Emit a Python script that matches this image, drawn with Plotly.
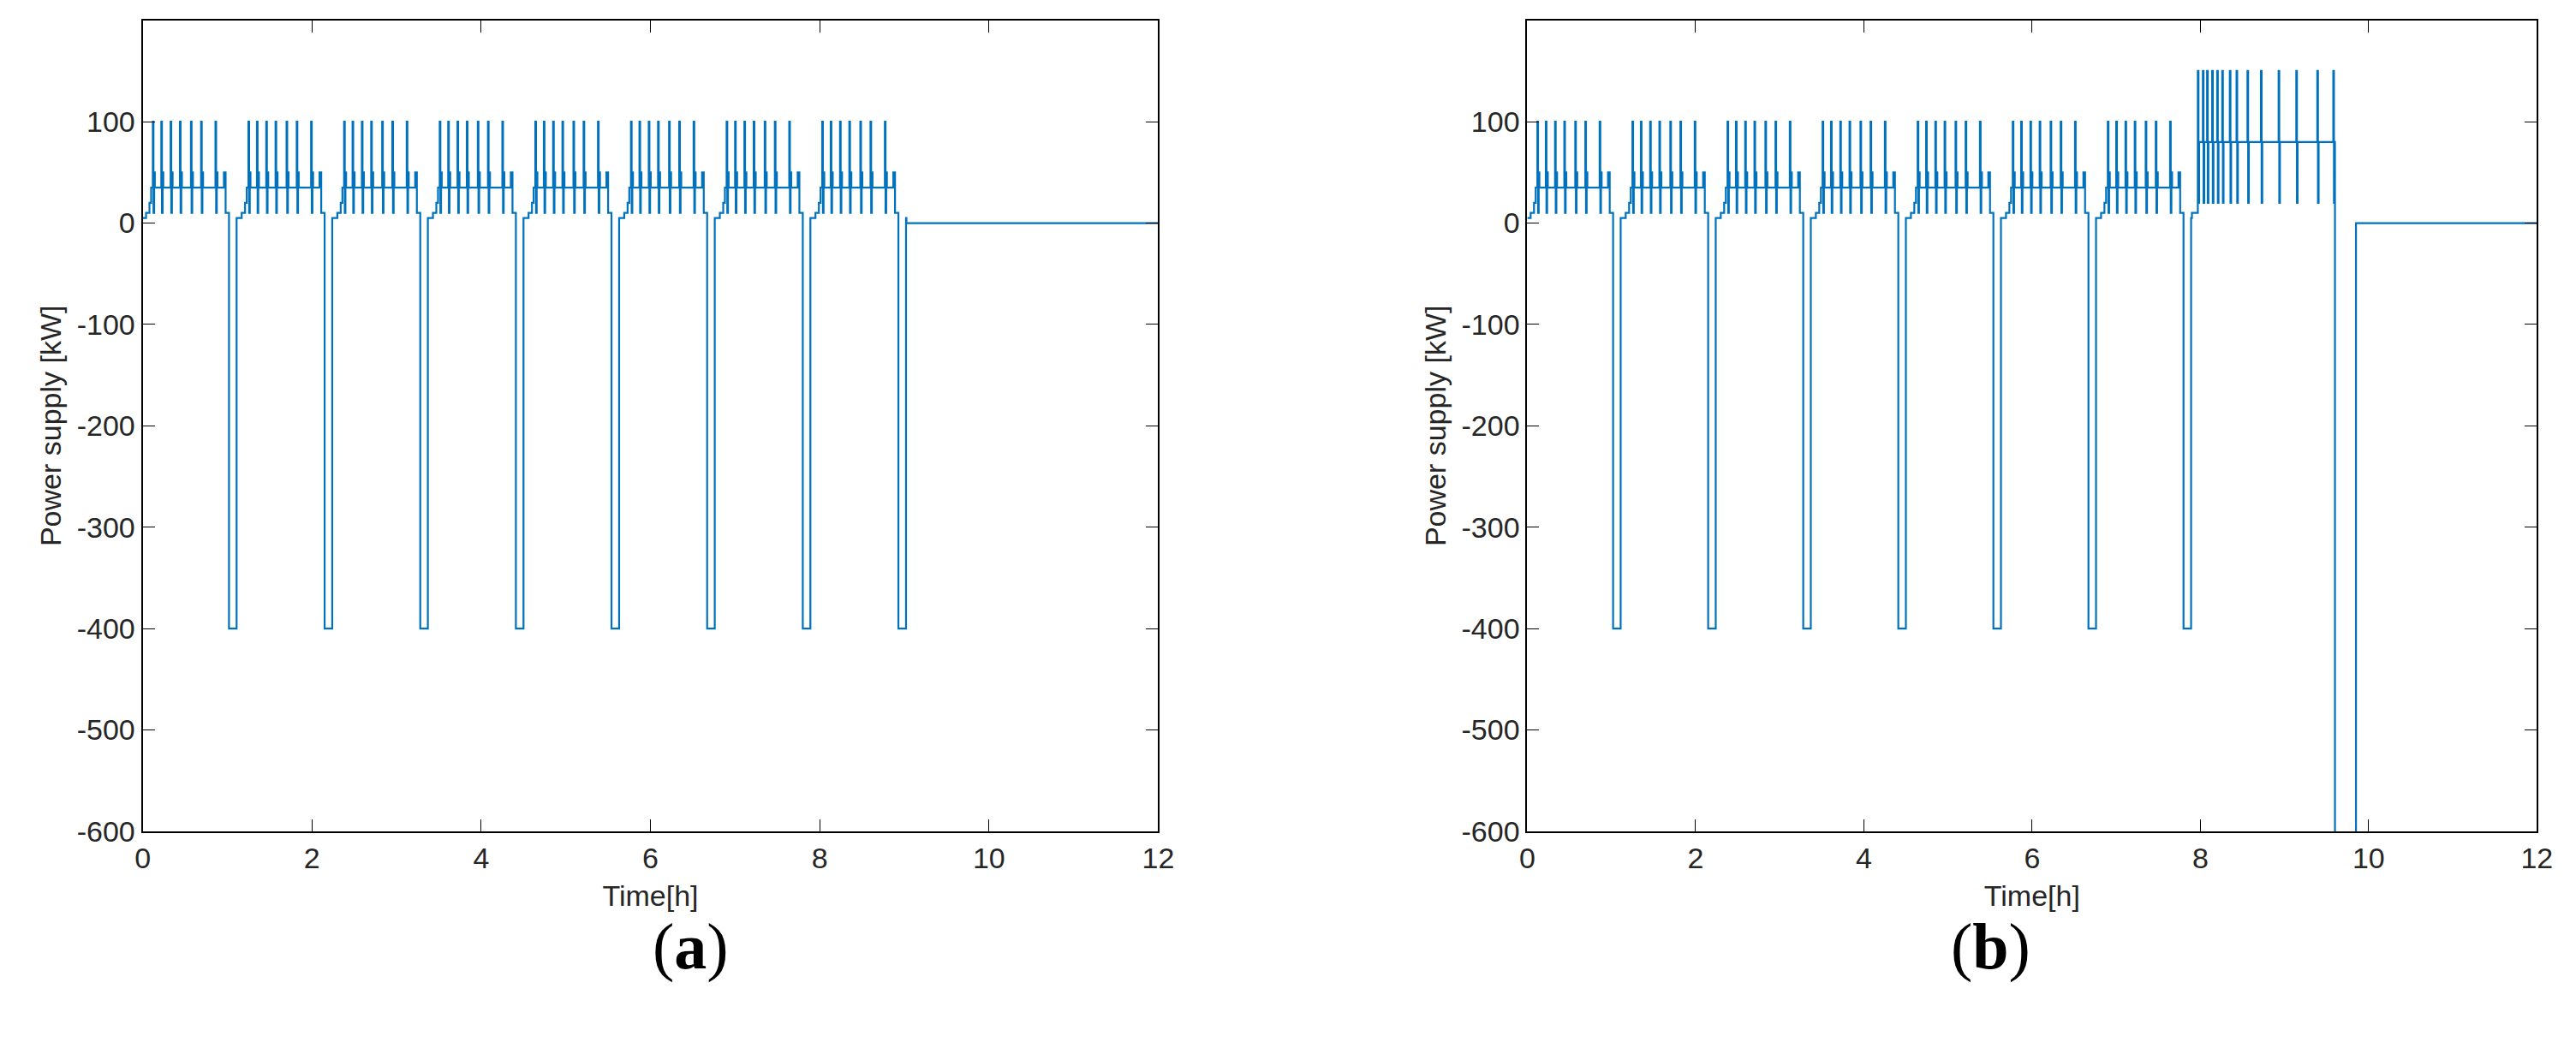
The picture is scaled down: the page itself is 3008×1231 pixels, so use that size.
import plotly.graph_objects as go

# Read values
cycle_starts_a = [0.0, 1.13, 2.26, 3.39, 4.52, 5.65, 6.78, 7.91]
cycle_starts_b = [0.0, 1.13, 2.26, 3.39, 4.52, 5.65, 6.78]
spike_offsets = [0.12, 0.22, 0.33, 0.44, 0.57, 0.69, 0.86]
spike_levels = [100, 10, 50, 35]
base_level = 35
pre_levels = [5, 10, 20]          # ramp-in levels at cycle start
dip_level = -400
big_spikes = [7.97, 8.03, 8.08, 8.14, 8.20, 8.26, 8.35, 8.43, 8.56, 8.72, 8.93, 9.14, 9.39, 9.58]
big_levels = [150, 20, 80]
big_start, big_end = 7.95, 9.60
big_dip_level = -620
big_dip_end = 9.85
y_ticks = [200, 100, 0, -100, -200, -300, -400, -500, -600]
y_tick_text = ["200", "100", "0", "-100", "-200", "-300", "-400", "-500", "-600"]

def cycle(t0, x, y):
    x += [t0, t0 + 0.04, t0 + 0.08]; y += pre_levels
    x.append(t0 + 0.10); y.append(base_level)
    for s in spike_offsets:
        for k, v in enumerate(spike_levels):
            x.append(t0 + s + 0.008 * k); y.append(v)
    x += [t0 + 0.96, t0 + 0.98]; y += [50, 10]
    x += [t0 + 1.02, t0 + 1.11]; y += [dip_level, 5]

def build(starts, big):
    x, y = [], []
    for t0 in starts:
        cycle(t0, x, y)
    if big:
        x.append(big_start - 0.05); y.append(10)
        for s in big_spikes:
            for k, v in enumerate(big_levels):
                x.append(s + 0.008 * k); y.append(v)
        x += [big_end, big_dip_end]; y += [big_dip_level, 0]
    else:
        x.append(starts[-1] + 1.11 + 0.005); y.append(0)
    x.append(12); y.append(0)
    return x, y

xa, ya = build(cycle_starts_a, False)
xb, yb = build(cycle_starts_b, True)

fig = go.Figure()
line = dict(color="#0072BD", width=2.2, shape="hv")
fig.add_trace(go.Scatter(x=xa, y=ya, mode="lines", line=line, xaxis="x", yaxis="y", showlegend=False))
fig.add_trace(go.Scatter(x=xb, y=yb, mode="lines", line=line, xaxis="x2", yaxis="y2", showlegend=False))

fnt = dict(family="Liberation Sans, Arial", size=34, color="#262626")
ax = dict(range=[0, 12], dtick=2, showgrid=False, zeroline=False, mirror="ticks", ticks="inside",
          ticklen=14, linecolor="black", linewidth=2, tickcolor="black", tickfont=fnt, showline=True)
ay = dict(range=[-600, 200], tickvals=y_ticks, ticktext=y_tick_text, showgrid=False, zeroline=False,
          mirror="ticks", ticks="inside", ticklen=14, linecolor="black", linewidth=2, tickcolor="black",
          tickfont=fnt, showline=True)
yd = [1 - 978 / 1231, 1 - 16 / 1231]
fig.update_layout(
    width=3008, height=1231, margin=dict(l=0, r=0, t=0, b=0),
    plot_bgcolor="white", paper_bgcolor="white",
    xaxis=dict(ax, domain=[151 / 3008, 1348 / 3008], anchor="y", title=dict(text="Time[h]", font=fnt, standoff=14)),
    yaxis=dict(ay, domain=yd, anchor="x", title=dict(text="Power supply [kW]", font=fnt, standoff=8)),
    xaxis2=dict(ax, domain=[1783 / 3008, 2973 / 3008], anchor="y2", title=dict(text="Time[h]", font=fnt, standoff=14)),
    yaxis2=dict(ay, domain=yd, anchor="x2", title=dict(text="Power supply [kW]", font=fnt, standoff=8)),
    annotations=[
        dict(text="(<b>a</b>)", x=(151 + 1348) / 2 / 3008, y=1 - 1160 / 1231, xref="paper", yref="paper",
             showarrow=False, font=dict(family="Liberation Serif", size=76, color="black")),
        dict(text="(<b>b</b>)", x=(1783 + 2973) / 2 / 3008, y=1 - 1160 / 1231, xref="paper", yref="paper",
             showarrow=False, font=dict(family="Liberation Serif", size=76, color="black")),
    ],
)
fig.write_html("out.html")
